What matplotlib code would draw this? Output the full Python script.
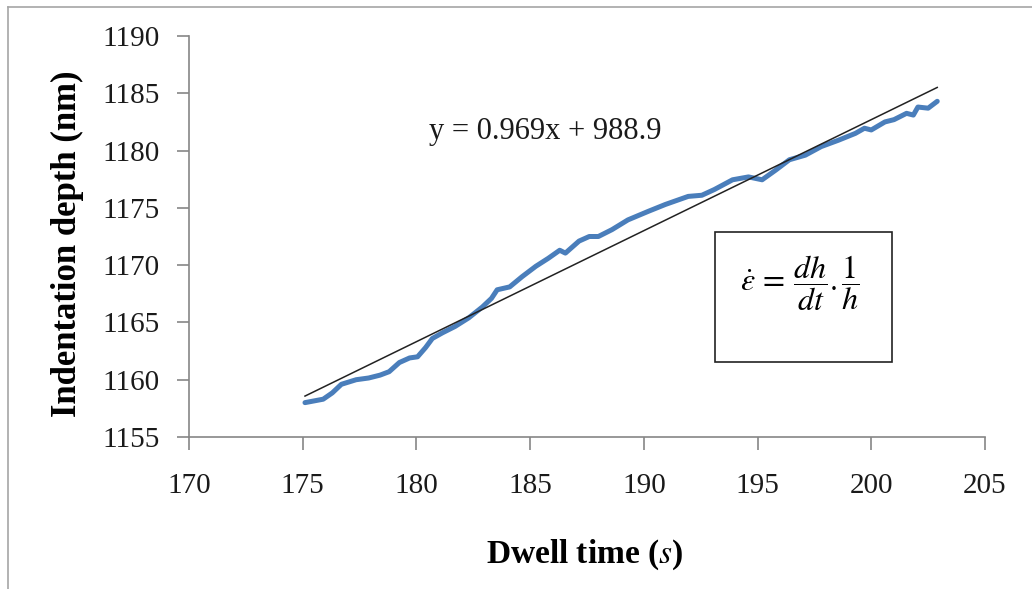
import matplotlib
matplotlib.use("Agg")
import matplotlib.pyplot as plt
from matplotlib.patches import Rectangle

plt.rcParams['font.family'] = ['Liberation Serif', 'DejaVu Serif']
plt.rcParams['mathtext.fontset'] = 'stix'

# dwell time (s) and indentation depth (nm)
dwell_time = [175.1, 175.9, 176.3, 176.7, 177.35, 177.9, 178.4, 178.8, 179.25, 179.7,
              180.05, 180.4, 180.7, 181.15, 181.7, 182.3, 182.9, 183.3, 183.55, 184.1,
              184.65, 185.25, 185.8, 186.3, 186.55, 187.15, 187.6, 188.0, 188.6, 189.3,
              190.2, 190.95, 191.95, 192.55, 193.1, 193.9, 194.6, 195.2, 195.8, 196.4,
              197.1, 197.8, 198.55, 199.3, 199.7, 200.0, 200.6, 201.0, 201.55, 201.85,
              202.05, 202.5, 202.9]
depth = [1158.0, 1158.3, 1158.85, 1159.6, 1160.0, 1160.15, 1160.4, 1160.7, 1161.5, 1161.9,
         1162.0, 1162.8, 1163.6, 1164.1, 1164.65, 1165.4, 1166.35, 1167.1, 1167.85, 1168.1,
         1169.0, 1169.9, 1170.6, 1171.3, 1171.05, 1172.1, 1172.5, 1172.5, 1173.1, 1173.95,
         1174.7, 1175.3, 1176.0, 1176.1, 1176.6, 1177.45, 1177.7, 1177.45, 1178.3, 1179.2,
         1179.6, 1180.35, 1180.9, 1181.5, 1181.95, 1181.8, 1182.5, 1182.7, 1183.25, 1183.1,
         1183.8, 1183.7, 1184.3]

# linear trend from the chart
slope = 0.969
intercept = 988.9
trend_x = [dwell_time[0], dwell_time[-1]]
trend_y = [slope * x + intercept for x in trend_x]

W, H = 1032, 589
fig = plt.figure(figsize=(W / 100, H / 100), dpi=100)
# outer chart frame: only left and top edges show
fig.add_artist(plt.Line2D([8 / W, 8 / W], [0, 1 - 7 / H], color='#a6a6a6', linewidth=1.2))
fig.add_artist(plt.Line2D([8 / W, 1], [1 - 7 / H, 1 - 7 / H], color='#a6a6a6', linewidth=1.2))

ax = fig.add_axes([189 / W, 1 - 437 / H, (985 - 189) / W, (437 - 36) / H])

ax.plot(dwell_time, depth, color='#4a7ebb', linewidth=3.6, solid_capstyle='round')
ax.plot(trend_x, trend_y, color='#222222', linewidth=1.1)

ax.set_xlim(170, 205)
ax.set_ylim(1155, 1190)
ax.set_xticks(range(170, 206, 5))
ax.set_yticks(range(1155, 1191, 5))
for side in ['top', 'right']:
    ax.spines[side].set_visible(False)
for side in ['left', 'bottom']:
    ax.spines[side].set_color('#868686')
    ax.spines[side].set_linewidth(1.2)
ax.tick_params(direction='out', length=9, width=1.2, color='#868686',
               labelsize=21, labelcolor='#1a1a1a')
ax.tick_params(axis='y', pad=12)
ax.tick_params(axis='x', pad=17)

fig.text(585 / W, 1 - 555 / H, r'Dwell time ($\mathit{s}$)', fontsize=24, fontweight='bold',
         ha='center', va='center')
fig.text(67 / W, 1 - 244 / H, 'Indentation depth (nm)', fontsize=25, fontweight='bold',
         rotation=90, ha='center', va='center')

fig.text(545 / W, 1 - 131 / H, 'y = 0.969x + 988.9', fontsize=22,
         ha='center', va='center', color='#1a1a1a')

fig.patches.append(Rectangle((715 / W, 1 - 362 / H), (892 - 715) / W, (362 - 232) / H,
                             transform=fig.transFigure, fill=False, edgecolor='#222222',
                             linewidth=1.2))
fig.text(800 / W, 1 - 283 / H, r'$\dot{\varepsilon}\,=\,\dfrac{dh}{dt}.\dfrac{1}{h}$',
         fontsize=23, ha='center', va='center')

fig.savefig('out.png', dpi=100)
